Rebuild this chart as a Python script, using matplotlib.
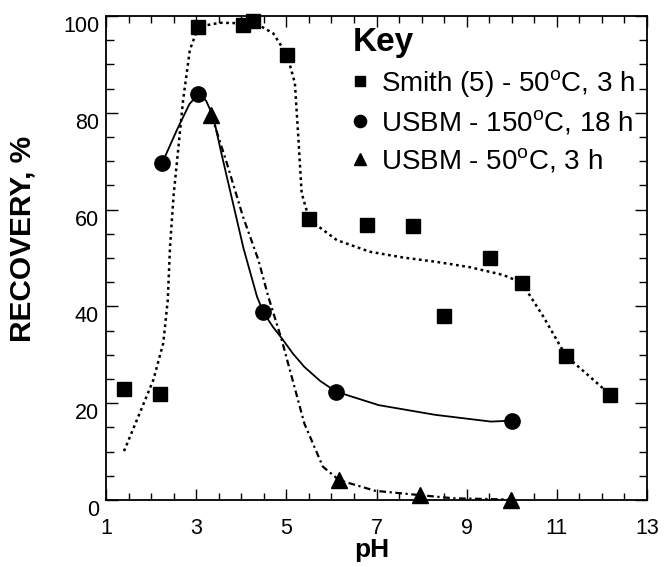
import matplotlib
matplotlib.use("Agg")
import matplotlib.pyplot as plt
from matplotlib.transforms import ScaledTranslation
from matplotlib.ticker import MultipleLocator, FixedLocator

plt.rcParams['font.family'] = ['Liberation Sans', 'DejaVu Sans']
plt.rcParams['mathtext.fontset'] = 'custom'
plt.rcParams['mathtext.rm'] = 'Liberation Sans'
plt.rcParams['mathtext.it'] = 'Liberation Sans:italic'
plt.rcParams['mathtext.bf'] = 'Liberation Sans:bold'

# ---- data ----
smith_ph = [1.40, 2.20, 3.05, 4.04, 4.25, 5.02, 5.51, 6.79, 7.80, 8.49, 9.51, 10.22, 11.20, 12.19]
smith_rec = [22.9, 22.0, 97.8, 98.2, 99.0, 91.9, 58.0, 56.8, 56.6, 38.0, 49.9, 44.9, 29.8, 21.7]

usbm150_ph = [2.25, 3.05, 4.49, 6.10, 10.0]
usbm150_rec = [69.7, 83.9, 38.8, 22.4, 16.4]

usbm50_ph = [3.34, 6.17, 7.97, 9.99]
usbm50_rec = [79.5, 4.1, 1.0, 0.1]

# fitted curves as drawn in the picture
smith_curve_ph = [1.40, 1.75, 2.05, 2.27, 2.37, 2.42, 2.50, 2.57, 2.71, 2.86, 3.05, 3.53, 4.04,
                  4.23, 4.71, 5.02, 5.19, 5.26, 5.34, 5.51, 6.12, 6.85, 7.59, 8.33, 9.07, 9.81,
                  10.22, 10.70, 11.20, 11.73, 12.19]
smith_curve_rec = [10.1, 18.0, 24.8, 32.4, 41.3, 52.3, 63.0, 69.5, 82.6, 93.0, 97.8, 98.6, 98.5,
                   99.0, 96.4, 91.9, 86.1, 75.8, 63.4, 57.9, 53.7, 51.3, 50.1, 49.2, 48.1, 46.5,
                   44.9, 37.9, 29.8, 25.5, 21.7]

usbm150_curve_ph = [2.25, 2.57, 2.85, 3.05, 3.22, 3.38, 3.55, 3.80, 4.05, 4.35, 4.49, 4.70,
                    4.90, 5.15, 5.40, 5.75, 6.10, 7.05, 8.30, 9.54, 10.0]
usbm150_curve_rec = [69.7, 76.4, 81.8, 83.9, 82.5, 79.2, 72.0, 62.0, 52.0, 42.0, 38.8, 35.8,
                     33.4, 30.2, 27.5, 24.6, 22.4, 19.6, 17.6, 16.2, 16.4]

usbm50_curve_ph = [3.34, 3.68, 4.04, 4.38, 4.60, 4.90, 5.40, 5.81, 6.17, 6.97, 7.97, 8.71, 9.99]
usbm50_curve_rec = [79.5, 69.6, 58.5, 49.6, 42.0, 33.0, 15.8, 6.9, 4.1, 1.9, 1.0, 0.35, 0.1]

labels = [r"Smith ($\mathit{5}$) - 50$^{\mathrm{o}}$C, 3 h",
          r"USBM - 150$^{\mathrm{o}}$C, 18 h",
          r"USBM - 50$^{\mathrm{o}}$C, 3 h"]

# ---- figure ----
fig = plt.figure(figsize=(6.65, 5.67), dpi=100)
ax = fig.add_axes([106/665, 67/567, 541/665, 484/567])

ax.plot(smith_curve_ph, smith_curve_rec, color='black', lw=1.8,
        linestyle=(0, (1.1, 1.4)), dash_capstyle='butt')
ax.plot(usbm150_curve_ph, usbm150_curve_rec, color='black', lw=1.3, linestyle='-')
ax.plot(usbm50_curve_ph, usbm50_curve_rec, color='black', lw=1.6,
        linestyle=(0, (3.0, 1.6, 1.0, 1.6)), dash_capstyle='butt')

h1, = ax.plot(smith_ph, smith_rec, 's', color='black', markersize=9.5, linestyle='none',
              label=labels[0], clip_on=False)
h2, = ax.plot(usbm150_ph, usbm150_rec, 'o', color='black', markersize=11, linestyle='none',
              label=labels[1], clip_on=False)
h3, = ax.plot(usbm50_ph, usbm50_rec, '^', color='black', markersize=11, linestyle='none',
              label=labels[2], clip_on=False)

ax.set_xlim(1, 13)
ax.set_ylim(0, 100)
ax.xaxis.set_major_locator(FixedLocator([1, 3, 5, 7, 9, 11, 13]))
ax.xaxis.set_minor_locator(MultipleLocator(0.5))
ax.yaxis.set_major_locator(MultipleLocator(20))
ax.yaxis.set_minor_locator(MultipleLocator(5))

for s in ax.spines.values():
    s.set_linewidth(1.3)

ax.tick_params(which='both', direction='in', top=True, right=True, width=1.0, color='black')
ax.tick_params(axis='x', which='major', length=8, pad=13, labelsize=15.5)
ax.tick_params(axis='x', which='minor', length=5)
ax.tick_params(axis='y', which='major', length=8.5, pad=5, labelsize=15.5)
ax.tick_params(axis='y', which='minor', length=6)

fig.canvas.draw()
off = ScaledTranslation(0, -8/100, fig.dpi_scale_trans)
for lab in ax.get_yticklabels():
    lab.set_transform(lab.get_transform() + off)

ax.set_xlabel('pH', fontsize=19, fontweight='bold')
ax.xaxis.set_label_coords(0.492, -0.079)
ax.set_ylabel('RECOVERY, %', fontsize=21.5, fontweight='bold')
ax.yaxis.set_label_coords(-0.128, 0.54)

leg = ax.legend(handles=[h1, h2, h3], loc='upper left',
                bbox_to_anchor=(353/665, 1 - 27/567), bbox_transform=fig.transFigure,
                frameon=False, fontsize=20, title='Key',
                title_fontproperties={'weight': 'bold', 'size': 24},
                alignment='left', handlelength=0.5, handletextpad=0.5,
                borderpad=0, borderaxespad=0, labelspacing=0.36, markerscale=0.8)

fig.savefig('out.png', dpi=100)
